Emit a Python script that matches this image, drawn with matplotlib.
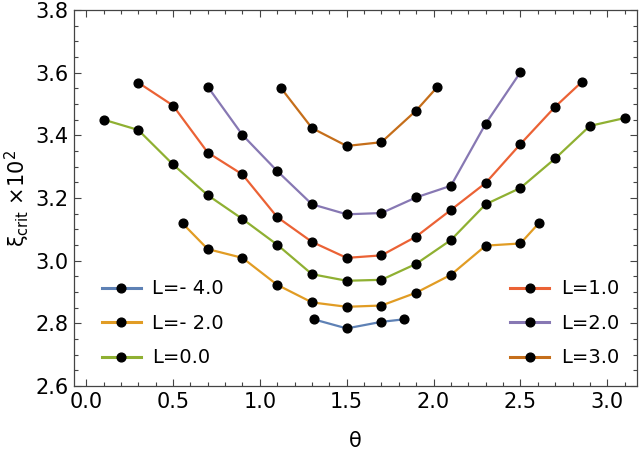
import matplotlib
matplotlib.use("Agg")
import matplotlib.pyplot as plt
from matplotlib.lines import Line2D
from matplotlib.ticker import MultipleLocator

# theta grids and critical values (x 10^2) per L
theta_m4 = [1.31, 1.5, 1.7, 1.83]
xi_m4 = [2.813, 2.784, 2.805, 2.813]

theta_m2 = [0.555, 0.7, 0.9, 1.1, 1.3, 1.5, 1.7, 1.9, 2.1, 2.3, 2.5, 2.605]
xi_m2 = [3.119, 3.037, 3.009, 2.923, 2.867, 2.853, 2.857, 2.898, 2.955, 3.048, 3.055, 3.119]

theta_0 = [0.1, 0.3, 0.5, 0.7, 0.9, 1.1, 1.3, 1.5, 1.7, 1.9, 2.1, 2.3, 2.5, 2.7, 2.9, 3.1]
xi_0 = [3.450, 3.417, 3.307, 3.209, 3.133, 3.051, 2.957, 2.936, 2.939, 2.990, 3.066,
        3.180, 3.232, 3.326, 3.430, 3.455]

theta_1 = [0.3, 0.5, 0.7, 0.9, 1.1, 1.3, 1.5, 1.7, 1.9, 2.1, 2.3, 2.5, 2.7, 2.855]
xi_1 = [3.568, 3.495, 3.345, 3.275, 3.139, 3.060, 3.009, 3.017, 3.077, 3.162, 3.248,
        3.372, 3.491, 3.571]

theta_2 = [0.7, 0.9, 1.1, 1.3, 1.5, 1.7, 1.9, 2.1, 2.3, 2.5]
xi_2 = [3.555, 3.401, 3.286, 3.180, 3.148, 3.152, 3.202, 3.239, 3.437, 3.601]

theta_3 = [1.12, 1.3, 1.5, 1.7, 1.9, 2.02]
xi_3 = [3.552, 3.423, 3.366, 3.378, 3.479, 3.553]

labels = ['L=- 4.0', 'L=- 2.0', 'L=0.0', 'L=1.0', 'L=2.0', 'L=3.0']
colors = ['#5E81B5', '#E19C24', '#8FB032', '#EB6235', '#8778B3', '#C56E1A']

series = [(theta_m4, xi_m4), (theta_m2, xi_m2), (theta_0, xi_0),
          (theta_1, xi_1), (theta_2, xi_2), (theta_3, xi_3)]

fig = plt.figure(figsize=(6.4, 4.5), dpi=100)
ax = fig.add_axes([0.1156, 0.142, 0.8794, 0.836])

for (t, v), c in zip(series, colors):
    ax.plot(t, v, color=c, lw=1.6, zorder=2)
    ax.plot(t, v, 'o', color='black', ms=6.3, zorder=3)

ax.set_xlim(-0.07, 3.17)
ax.set_ylim(2.6, 3.8)
ax.xaxis.set_major_locator(MultipleLocator(0.5))
ax.xaxis.set_minor_locator(MultipleLocator(0.1))
ax.yaxis.set_major_locator(MultipleLocator(0.2))
ax.yaxis.set_minor_locator(MultipleLocator(0.05))
ax.tick_params(which='both', direction='in', top=True, right=True,
               color='#444444', width=0.8)
ax.tick_params(which='major', length=5, labelsize=15, pad=4)
ax.tick_params(which='minor', length=3)
for s in ax.spines.values():
    s.set_color('#444444')
    s.set_linewidth(0.9)

ax.set_xlabel('θ', fontsize=15, labelpad=14)
ax.set_ylabel('ξ$_{\\mathrm{crit}}$ ×10$^{2}$', fontsize=15, labelpad=2)

handles = [Line2D([], [], color=c, lw=2.2, marker='o', mfc='black', mec='black', ms=6.3)
           for c in colors]

leg1 = ax.legend(handles[:3], labels[:3], loc='lower left', bbox_to_anchor=(0.018, 0.003),
                 frameon=False, fontsize=14, numpoints=1, handlelength=2.0,
                 labelspacing=0.8, handletextpad=0.6)
ax.add_artist(leg1)
ax.legend(handles[3:], labels[3:], loc='lower right', bbox_to_anchor=(1.0, 0.003),
          frameon=False, fontsize=14, numpoints=1, handlelength=2.0,
          labelspacing=0.8, handletextpad=0.6)

fig.savefig('out.png', dpi=100)
